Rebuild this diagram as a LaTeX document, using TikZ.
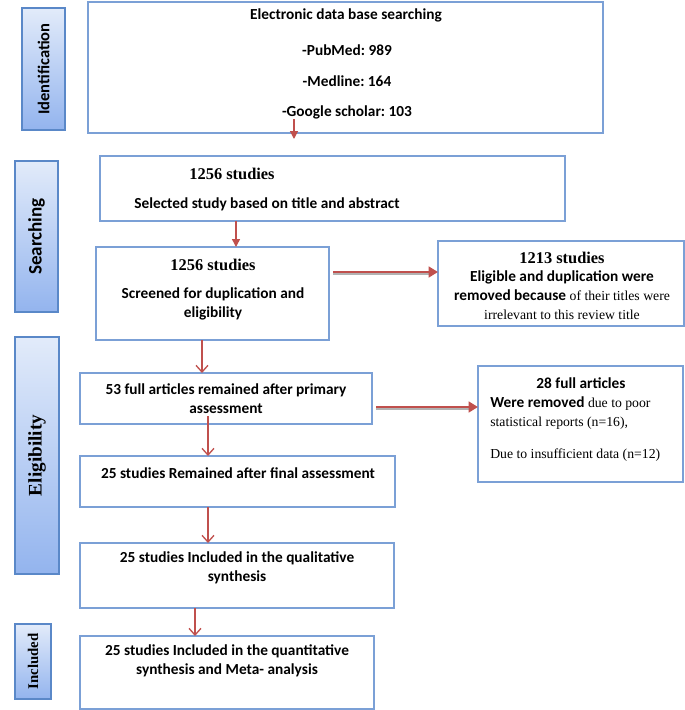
\documentclass[tikz,border=0pt]{standalone}
\usepackage{fontspec}
\setmainfont{Carlito}
\newfontfamily\timesfont{Liberation Serif}
\usetikzlibrary{arrows.meta,positioning,calc,fit}
\frenchspacing

\definecolor{boxblue}{HTML}{7BA0D6}
\definecolor{barblue}{HTML}{5A88C8}
\definecolor{bartop}{HTML}{E2EBFA}
\definecolor{barbot}{HTML}{93B4EE}
\definecolor{arrowred}{HTML}{C0504D}

\newcommand{\calbold}{\fontsize{11.5}{14.25}\selectfont\bfseries}
\newcommand{\serifhead}{\timesfont\fontsize{12.3}{14.25}\selectfont\bfseries}
\newcommand{\serifnote}{\timesfont\fontsize{10.3}{14.25}\selectfont\mdseries}

\tikzset{
  flowbox/.style={draw=boxblue, line width=1pt, inner sep=0pt, outer sep=0pt},
  stagebar/.style={draw=barblue, line width=1pt, top color=bartop, bottom color=barbot, inner sep=0pt, outer sep=0pt},
  boxtext/.style={font=\calbold, align=center, inner sep=0pt},
  redarrow/.style={draw=arrowred, line width=1.1pt, -{Triangle[length=6pt,width=6pt]}},
  openarrow/.style={draw=arrowred, line width=1pt, -{Straight Barb[length=5pt,width=9pt]}},
  widearrow/.style={draw=arrowred, line width=2.2pt, shorten <=3pt,
    -{Triangle[length=7pt,width=8pt]},
    preaction={draw=black!30, line width=1.5pt, -, shorten >=6pt, transform canvas={yshift=-1.6pt}}},
}

\begin{document}
\begin{tikzpicture}[x=0.75pt,y=-0.75pt]
    \useasboundingbox (0,0) rectangle (685,710);

    % stage bars on the left
    \node[stagebar, fit={(22,8) (65,130)}] (identbar) {};
    \node[rotate=90, font=\fontsize{12.4}{14}\selectfont\bfseries] (identlbl) at (identbar.center) {Identification};
    \node[stagebar, fit={(15,161) (58,312)}] (searchbar) {};
    \node[rotate=90, font=\fontsize{14.3}{16}\selectfont\bfseries] (searchlbl) at (searchbar.center) {Searching};
    \node[stagebar, fit={(15,337) (59,574)}] (eligbar) {};
    \node[rotate=90, font=\timesfont\fontsize{14.4}{16}\selectfont\bfseries] (eliglbl) at (eligbar.center) {Eligibility};
    \node[stagebar, fit={(15,624) (51,699)}] (inclbar) {};
    \node[rotate=90, font=\timesfont\fontsize{11.1}{13}\selectfont\bfseries] (incllbl) at (inclbar.center) {Included};

    % identification
    \node[flowbox, fit={(88,2) (603,133)}] (dbsearch) {};
    \node[boxtext] (dbtitle) at (346,15) {Electronic data base searching};
    \foreach \y/\txt [count=\i] in {50/-PubMed: 989, 81/-Medline: 164, 112/-Google scholar: 103}
        \node[boxtext] (db\i) at (347,\y) {\txt};

    % searching
    \node[flowbox, fit={(100,156) (565,221)}] (select) {};
    \node[font=\serifhead, inner sep=0pt] (selnum) at (232,174) {1256 studies};
    \node[boxtext] (seltxt) at (267,204) {Selected study based on title and abstract};

    \node[flowbox, fit={(96,247) (329,340)}] (screen) {};
    \node[font=\serifhead, inner sep=0pt] (scrnum) at (213,265) {1256 studies};
    \node[boxtext] (scrtxt) at (213,304) {Screened for duplication and\\eligibility};

    \node[flowbox, fit={(438,241) (684,326)}] (dupl) {};
    \node[font=\serifhead, inner sep=0pt] (duplnum) at (562,258) {1213 studies};
    \node[boxtext] (dupltxt) at (562,295) {Eligible and duplication were\\
        removed because {\serifnote of their titles were}\\
        {\serifnote irrelevant to this review title}};

    % eligibility
    \node[flowbox, fit={(80,373) (372,424)}] (primary) {};
    \node[boxtext] (primtxt) at (226,399) {53 full articles remained after primary\\assessment};

    \node[flowbox, fit={(478,366) (683,482)}] (removed) {};
    \node[boxtext] (remnum) at (581,383) {28 full articles};
    \node[boxtext, align=left, anchor=west] (remtxt) at (490,429) {Were removed {\serifnote due to poor}\\
        {\serifnote statistical reports (n=16),}\\[10pt]
        {\serifnote Due to insufficient data (n=12)}};

    \node[flowbox, fit={(80,456) (395,507)}] (final) {};
    \node[boxtext] (finaltxt) at (238,473) {25 studies Remained after final assessment};

    \node[flowbox, fit={(80,543) (394,608)}] (qual) {};
    \node[boxtext] (qualtxt) at (237,568) {25 studies Included in the qualitative\\synthesis};

    % included
    \node[flowbox, fit={(80,636) (374,709)}] (quant) {};
    \node[boxtext] (quanttxt) at (227,661) {25 studies Included in the quantitative\\synthesis and Meta- analysis};

    % connectors
    \coordinate (dbout) at (294,119);
    \coordinate (dbend) at (294,139);
    \draw[redarrow] (dbout) -- (dbend);

    \coordinate (colA) at (236,0);
    \draw[redarrow] (select.south -| colA) -- (screen.north -| colA);

    \coordinate (rowA) at (0,272);
    \draw[widearrow] (screen.east |- rowA) -- (dupl.west |- rowA);

    \coordinate (colB) at (202,0);
    \draw[openarrow] (screen.south -| colB) -- (primary.north -| colB);

    \coordinate (rowB) at (0,407);
    \draw[widearrow] (primary.east |- rowB) -- (removed.west |- rowB);

    \coordinate (primout) at (208,416);
    \draw[openarrow] (primout) -- (final.north -| primout);

    \coordinate (colC) at (208,0);
    \draw[openarrow] (final.south -| colC) -- (qual.north -| colC);

    \coordinate (colD) at (195,0);
    \draw[openarrow] (qual.south -| colD) -- (quant.north -| colD);
\end{tikzpicture}
\end{document}
